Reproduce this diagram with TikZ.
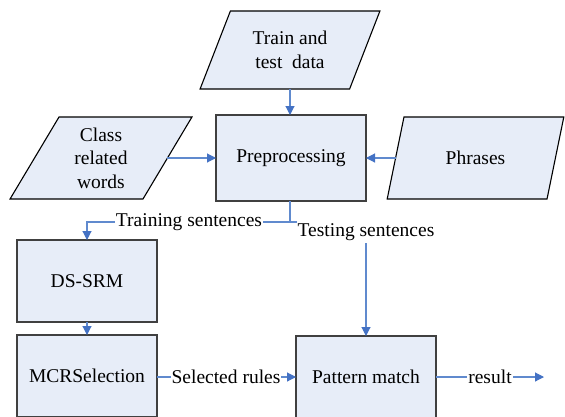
\documentclass[tikz,border=0pt]{standalone}
\usepackage{fontspec}
\setmainfont{Liberation Serif}
\usetikzlibrary{shapes.geometric,arrows.meta}
\definecolor{boxfill}{RGB}{231,237,248}
\definecolor{boxline}{RGB}{64,64,64}
\definecolor{flowline}{RGB}{96,138,206}
\definecolor{flowhead}{RGB}{68,114,196}
\tikzset{
  base/.style={font=\fontsize{19.5}{23.5}\selectfont, align=center, outer sep=0pt, inner sep=0pt},
  procbox/.style={base, rectangle, draw=boxline, fill=boxfill, line width=1.1pt},
  databox/.style={base, trapezium, trapezium stretches=true, trapezium left angle=63,
    trapezium right angle=117, draw=black, fill=boxfill, line width=1.1pt},
  flow/.style={draw=flowline, line width=1.1pt,
    -{Triangle[length=9pt,width=9pt,fill=flowhead,color=flowhead]}},
  flowlabel/.style={base, fill=white, inner xsep=1pt, inner ysep=2pt},
}
\begin{document}
\begin{tikzpicture}[x=1pt,y=-1pt]
  \useasboundingbox (0,0) rectangle (565,416);
  \clip (0,0) rectangle (565,416);

  % inputs
  \node[databox, minimum width=180, minimum height=78] (data) at (290,50) {Train and\\test\ \ data};
  \node[databox, minimum width=182, minimum height=82] (words) at (101,158) {Class\\related\\words};
  \node[databox, minimum width=178, minimum height=82] (phrases) at (475.5,158) {Phrases};

  % processing steps
  \node[procbox, minimum width=150, minimum height=86] (prep) at (291,158) {Preprocessing};
  \node[procbox, minimum width=140, minimum height=82] (dssrm) at (87,281) {DS-SRM};
  \node[procbox, minimum width=140, minimum height=82] (mcr) at (87,376) {MCRSelection};
  \node[procbox, minimum width=140, minimum height=82] (match) at (366,377) {Pattern match};
  \coordinate (out) at (544,377);
  \coordinate (split) at (290,222);

  % connectors
  \draw[flow] (data.south -| split) -- (prep.north -| split);
  \draw[flow] (words.right side) -- (prep.west);
  \draw[flow] (phrases.left side) -- (prep.east);
  \draw[flow] (prep.south -| split) -- (split) -| (dssrm.north);
  \draw[flow] (split) -| (match.north);
  \draw[flow] (dssrm.south) -- (mcr.north);
  \draw[flow] (mcr.east |- match.west) -- (match.west);
  \draw[flow] (match.east) -- (out);

  % connector labels
  \node[flowlabel] (trainlbl) at (189,222) {Training sentences};
  \node[flowlabel] (testlbl) at (366,232) {Testing sentences};
  \node[flowlabel] (ruleslbl) at (226,377) {Selected rules};
  \node[flowlabel] (resultlbl) at (490,377) {result};
\end{tikzpicture}
\end{document}
